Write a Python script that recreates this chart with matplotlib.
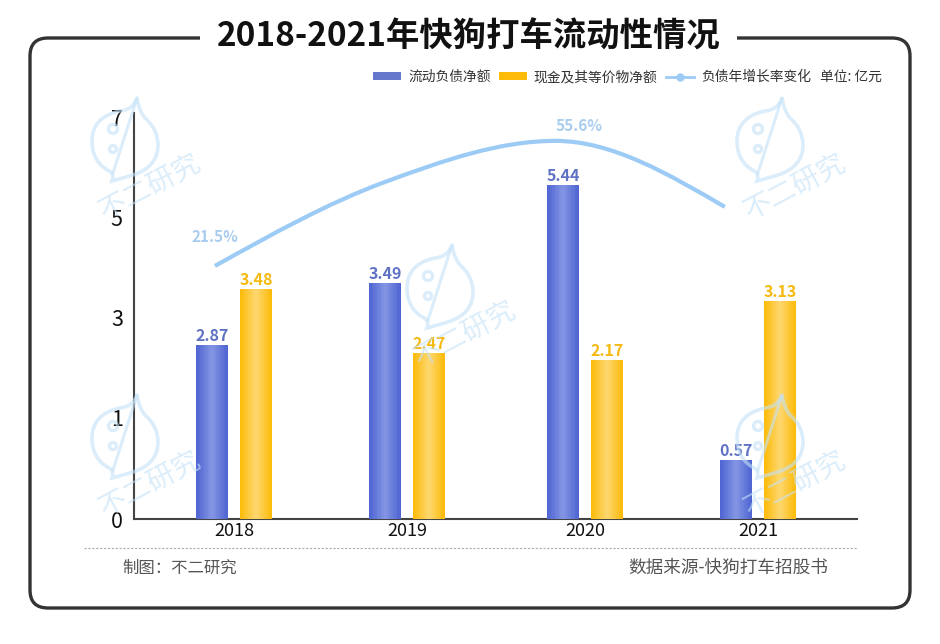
import numpy as np
import matplotlib
matplotlib.use('Agg')
from matplotlib import pyplot as plt
from matplotlib.colors import LinearSegmentedColormap
from matplotlib.lines import Line2D
from matplotlib.patches import Circle, FancyBboxPatch, PathPatch, Rectangle
from matplotlib.path import Path

plt.rcParams['font.family'] = ['Noto Sans CJK SC', 'DejaVu Sans']

years = ['2018', '2019', '2020', '2021']
debt = [2.87, 3.49, 5.44, 0.57]
cash = [3.48, 2.47, 2.17, 3.13]
growth = [21.5, 44.4, 55.6, 37.6]
growth_labels = {0: '21.5%', 2: '55.6%'}
y_ticks = [0, 1, 3, 5, 7]

# the y axis of the original is not linear, value -> height above the x axis
scale_values = [0, 0.57, 1, 2.17, 2.47, 2.87, 3, 3.13, 3.48, 3.49, 5, 5.44, 7, 7.1]
scale_heights = [0, 59, 101, 159, 166, 174, 202, 218, 230, 236, 302, 334, 402, 406]

# slots are not quite even in the original
group_x = np.array([0, 0.99, 2.01, 3.0])
line_x = np.array([-0.109, 0.865, 1.84, 2.81])

BLUE, BLUE_LIGHT = '#4f65d1', '#8496e4'
YELLOW, YELLOW_LIGHT = '#fdbb0a', '#fdd770'
LINE = '#9ccbf5'
FRAME = '#333333'
WATERMARK = '#c4e2f7'


def forward(v):
    return np.interp(v, scale_values, scale_heights)


def inverse(h):
    return np.interp(h, scale_heights, scale_values)


def smooth_path(xs, ys):
    # hermite curve through the points, flat at the peak
    n = len(xs)
    sec = np.diff(ys) / np.diff(xs)
    m = np.zeros(n)
    for i in range(1, n - 1):
        if sec[i - 1] * sec[i] > 0:
            m[i] = (ys[i + 1] - ys[i - 1]) / (xs[i + 1] - xs[i - 1])
    m[0] = 1.5 * sec[0] - 0.5 * m[1]
    m[-1] = 1.5 * sec[-1] - 0.5 * m[-2]
    verts, codes = [(xs[0], ys[0])], [Path.MOVETO]
    for i in range(n - 1):
        h = (xs[i + 1] - xs[i]) / 3
        verts += [(xs[i] + h, ys[i] + m[i] * h), (xs[i + 1] - h, ys[i + 1] - m[i + 1] * h), (xs[i + 1], ys[i + 1])]
        codes += [Path.CURVE4] * 3
    return Path(verts, codes)


def draw_watermark(bg, cx, cy):
    # bubble logo plus rotated name, drawn in pixel coords of the overlay
    offs = [(12, -45), (14, -32), (20, -25), (33, -14), (33, 2), (33, 24), (8, 32), (-2, 35), (-13, 38),
            (-11, 33), (-14, 29), (-33, 20), (-33, -2), (-33, -26), (-5, -32), (8, -33), (12, -45)]
    verts = [(cx + a, cy + b) for a, b in offs]
    codes = [Path.MOVETO] + [Path.CURVE3] * (len(verts) - 1)
    bg.add_patch(PathPatch(Path(verts, codes), fill=False, ec=WATERMARK, lw=2.6, alpha=0.6))
    bg.plot([cx + 12, cx - 12], [cy - 45, cy + 30], color=WATERMARK, lw=2.2, alpha=0.6)
    bg.add_patch(Circle((cx - 12, cy - 14), 4.5, fill=False, ec=WATERMARK, lw=2.4, alpha=0.6))
    bg.add_patch(Circle((cx - 12, cy + 6), 3.5, fill=False, ec=WATERMARK, lw=2.4, alpha=0.6))
    bg.text(cx + 25, cy + 44, '不二研究', fontsize=20, color=WATERMARK, alpha=0.6, rotation=28,
            rotation_mode='anchor', ha='center', va='center')


W, H = 940, 644
fig = plt.figure(figsize=(W / 100, H / 100), dpi=100)
ax = fig.add_axes([134 / W, 1 - 519 / H, (857 - 134) / W, (519 - 113) / H])
ax.set_yscale('function', functions=(forward, inverse))

bar_w = 0.183
shift = 0.126

blue_cmap = LinearSegmentedColormap.from_list('b', [BLUE, BLUE_LIGHT, BLUE])
yellow_cmap = LinearSegmentedColormap.from_list('y', [YELLOW, YELLOW_LIGHT, YELLOW])

for vals, pos, col, cmap, txt_col in [(debt, group_x - shift, BLUE, blue_cmap, '#5f72c4'),
                                      (cash, group_x + shift, YELLOW, yellow_cmap, '#f5b90f')]:
    ax.bar(pos, vals, bar_w, color=col, zorder=2)
    for p, v in zip(pos, vals):
        edges = np.linspace(p - bar_w / 2, p + bar_w / 2, 25)
        ax.pcolormesh(edges, [0, v], np.linspace(0, 1, 24).reshape(1, -1), cmap=cmap,
                      shading='flat', zorder=3, rasterized=True)
        ax.annotate(f'{v:.2f}', (p, v), xytext=(0, 0.5), textcoords='offset points', ha='center',
                    va='bottom', fontsize=11.5, fontweight='bold', color=txt_col, zorder=4)

ax.set_xlim(-0.5725, 3.567)
ax.set_ylim(0, 7.1)
ax.set_yticks(y_ticks)
ax.set_yticklabels([str(t) for t in y_ticks], fontsize=15.5, color='#111111')
ax.yaxis.set_minor_locator(matplotlib.ticker.NullLocator())
ax.yaxis.set_minor_formatter(matplotlib.ticker.NullFormatter())
ax.set_xticks(group_x)
ax.set_xticklabels(years, fontsize=13, color='#111111')
ax.tick_params(axis='both', length=0)
ax.tick_params(axis='x', pad=2)
ax.tick_params(axis='y', pad=8)
for side in ['top', 'right']:
    ax.spines[side].set_visible(False)
for side in ['left', 'bottom']:
    ax.spines[side].set_color('#444444')
    ax.spines[side].set_linewidth(1.5)

# growth curve has its own hidden axis
ax2 = ax.twinx()
ax2.set_ylim(-47.5, 63.2)
ax2.axis('off')
ax2.add_patch(PathPatch(smooth_path(line_x, growth), fill=False, ec=LINE, lw=3,
                        capstyle='butt', zorder=5))
offsets = {0: (0, 21), 2: (17, 11)}
for i, label in growth_labels.items():
    ax2.annotate(label, (line_x[i], growth[i]), xytext=offsets[i], textcoords='offset points',
                 ha='center', va='center', fontsize=11, fontweight='bold', color='#a9cdef')

handles = [Rectangle((0, 0), 1, 1, color='#6678cc', ec='none'),
           Rectangle((0, 0), 1, 1, color=YELLOW, ec='none'),
           Line2D([], [], color=LINE, lw=2, marker='o', ms=5)]
fig.legend(handles, ['流动负债净额', '现金及其等价物净额', '负债年增长率变化'], ncols=3, frameon=False,
           fontsize=9.9, labelcolor='#333333', loc='center left', bbox_to_anchor=(373 / W, 1 - 77 / H),
           borderaxespad=0, borderpad=0, handlelength=2.05, handleheight=0.45, handletextpad=0.5,
           columnspacing=0.6)

# overlay in pixel coords for frame, title, footer and watermarks
bg = fig.add_axes([0, 0, 1, 1], zorder=10)
bg.set_xlim(0, W)
bg.set_ylim(H, 0)
bg.axis('off')
bg.patch.set_alpha(0)

for cx, cy in [(125, 143), (770, 143), (440, 290), (125, 440), (770, 440)]:
    draw_watermark(bg, cx, cy)

bg.add_patch(FancyBboxPatch((30, 38), 880, 570, boxstyle='round,pad=0,rounding_size=18',
                            fc='none', ec=FRAME, lw=2.4))
bg.add_patch(Rectangle((200, 28), 537, 20, fc='white', ec='none', zorder=3))
bg.text(469, 37, '2018-2021年快狗打车流动性情况', fontsize=24, fontweight='bold', color='#111111',
        ha='center', va='center', zorder=4)
bg.text(851, 77, '单位: 亿元', fontsize=9.9, color='#333333', ha='center', va='center')

bg.plot([84, 857], [548, 548], color='#aaaaaa', lw=0.8, ls=(0, (2, 1.5)))
bg.text(122, 568, '制图\uff1a不二研究', fontsize=11.8, color='#555555', ha='left', va='center')
bg.text(828, 568, '数据来源-快狗打车招股书', fontsize=12.7, color='#555555', ha='right', va='center')

fig.savefig('out.png', dpi=100)
